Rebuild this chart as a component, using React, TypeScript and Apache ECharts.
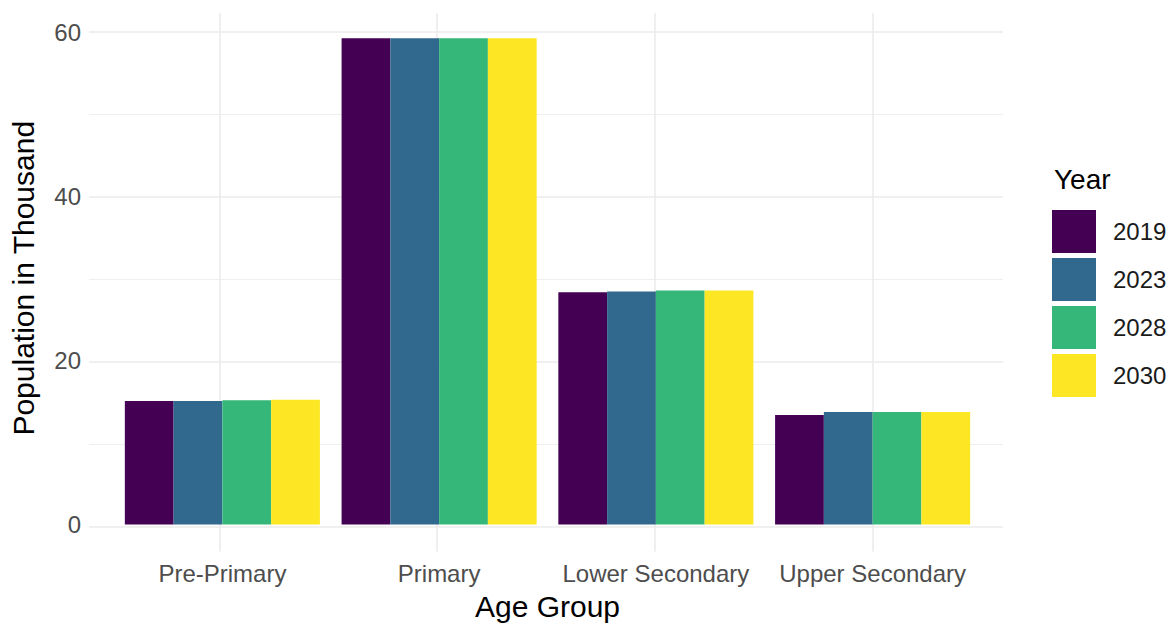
import React, { useEffect, useRef } from "react";
import * as echarts from "echarts";

const categories = ["Pre-Primary", "Primary", "Lower Secondary", "Upper Secondary"];
const years = ["2019", "2023", "2028", "2030"];
const v2019 = [15.05, 59.25, 28.3, 13.35];
const v2023 = [15.05, 59.25, 28.4, 13.7];
const v2028 = [15.15, 59.25, 28.5, 13.7];
const v2030 = [15.2, 59.25, 28.5, 13.7];
const seriesValues = [v2019, v2023, v2028, v2030];
const colors = ["#440154", "#31688E", "#35B779", "#FDE725"];
const yMajor = [0, 20, 40, 60];
const yMinor = [10, 30, 50];
const xCenters = [1, 2, 3, 4];

const FONT = "Liberation Sans, Arial, sans-serif";

export default function App() {
  const ref = useRef<HTMLDivElement>(null);
  useEffect(() => {
    if (!ref.current) return;
    const chart = echarts.init(ref.current, undefined, { renderer: "svg" });
    const dataMax = 59.3;
    const pad = dataMax * 0.05;
    const gridLine = (w: number) => ({ color: "#ebebeb", width: w, type: "solid" as const });
    chart.setOption({
      animation: false,
      backgroundColor: "#ffffff",
      textStyle: { fontFamily: FONT },
      grid: [
        { left: 89, right: 172, top: 13.3, bottom: 74.5 },
        { left: 111, right: 194, top: 32, bottom: 99 },
      ],
      xAxis: [
        { gridIndex: 0, type: "value", min: 0.4, max: 4.6, show: false },
        {
          gridIndex: 1,
          type: "category",
          data: categories,
          offset: 24.5,
          axisLine: { show: false },
          axisTick: { show: false },
          splitLine: { show: false },
          axisLabel: { fontSize: 24, color: "#4d4d4d", margin: 12, interval: 0, fontFamily: FONT },
          name: "Age Group",
          nameLocation: "middle",
          nameGap: 42,
          nameTextStyle: { fontSize: 30, color: "#000000", fontFamily: FONT },
        },
      ],
      yAxis: [
        { gridIndex: 0, type: "value", min: -pad, max: dataMax + pad, show: false },
        {
          gridIndex: 1,
          type: "value",
          min: 0,
          max: 60,
          interval: 20,
          offset: 22,
          axisLine: { show: false },
          axisTick: { show: false },
          splitLine: { show: false },
          axisLabel: { fontSize: 24, color: "#4d4d4d", margin: 11, fontFamily: FONT },
          name: "Population in Thousand",
          nameLocation: "middle",
          nameGap: 54,
          nameRotate: 90,
          nameTextStyle: { fontSize: 30, color: "#000000", fontFamily: FONT },
        },
      ],
      legend: {
        data: years,
        orient: "vertical",
        left: 1052,
        top: 210,
        itemWidth: 44,
        itemHeight: 43,
        itemGap: 5,
        icon: "rect",
        padding: 0,
        textStyle: { fontSize: 24, color: "#1a1a1a", fontFamily: FONT, padding: [0, 0, 0, 12] },
      },
      graphic: [
        {
          type: "text",
          left: 1054,
          top: 165,
          style: { text: "Year", fontSize: 28, fill: "#000000", fontFamily: FONT },
        },
      ],
      series: [
        {
          type: "scatter",
          xAxisIndex: 0,
          yAxisIndex: 0,
          data: [],
          silent: true,
          z: 0,
          markLine: {
            silent: true,
            z: 0,
            symbol: "none",
            label: { show: false },
            lineStyle: gridLine(0.8),
            data: yMinor.map((v) => ({ yAxis: v })),
          },
        },
        {
          type: "scatter",
          xAxisIndex: 0,
          yAxisIndex: 0,
          data: [],
          silent: true,
          z: 0,
          markLine: {
            silent: true,
            z: 0,
            symbol: "none",
            label: { show: false },
            lineStyle: gridLine(1.6),
            data: [
              ...yMajor.map((v) => ({ yAxis: v })),
              ...xCenters.map((v) => ({ xAxis: v })),
            ],
          },
        },
        ...years.map((y, i) => ({
          name: y,
          type: "bar",
          xAxisIndex: 1,
          yAxisIndex: 1,
          data: seriesValues[i],
          barGap: "0%",
          barCategoryGap: "10%",
          itemStyle: { color: colors[i] },
          z: 5,
        })),
      ],
    });
    return () => chart.dispose();
  }, []);
  return (
    <div
      ref={ref}
      style={{ position: "absolute", left: 0, top: 0, width: 1175, height: 626 }}
    />
  );
}
